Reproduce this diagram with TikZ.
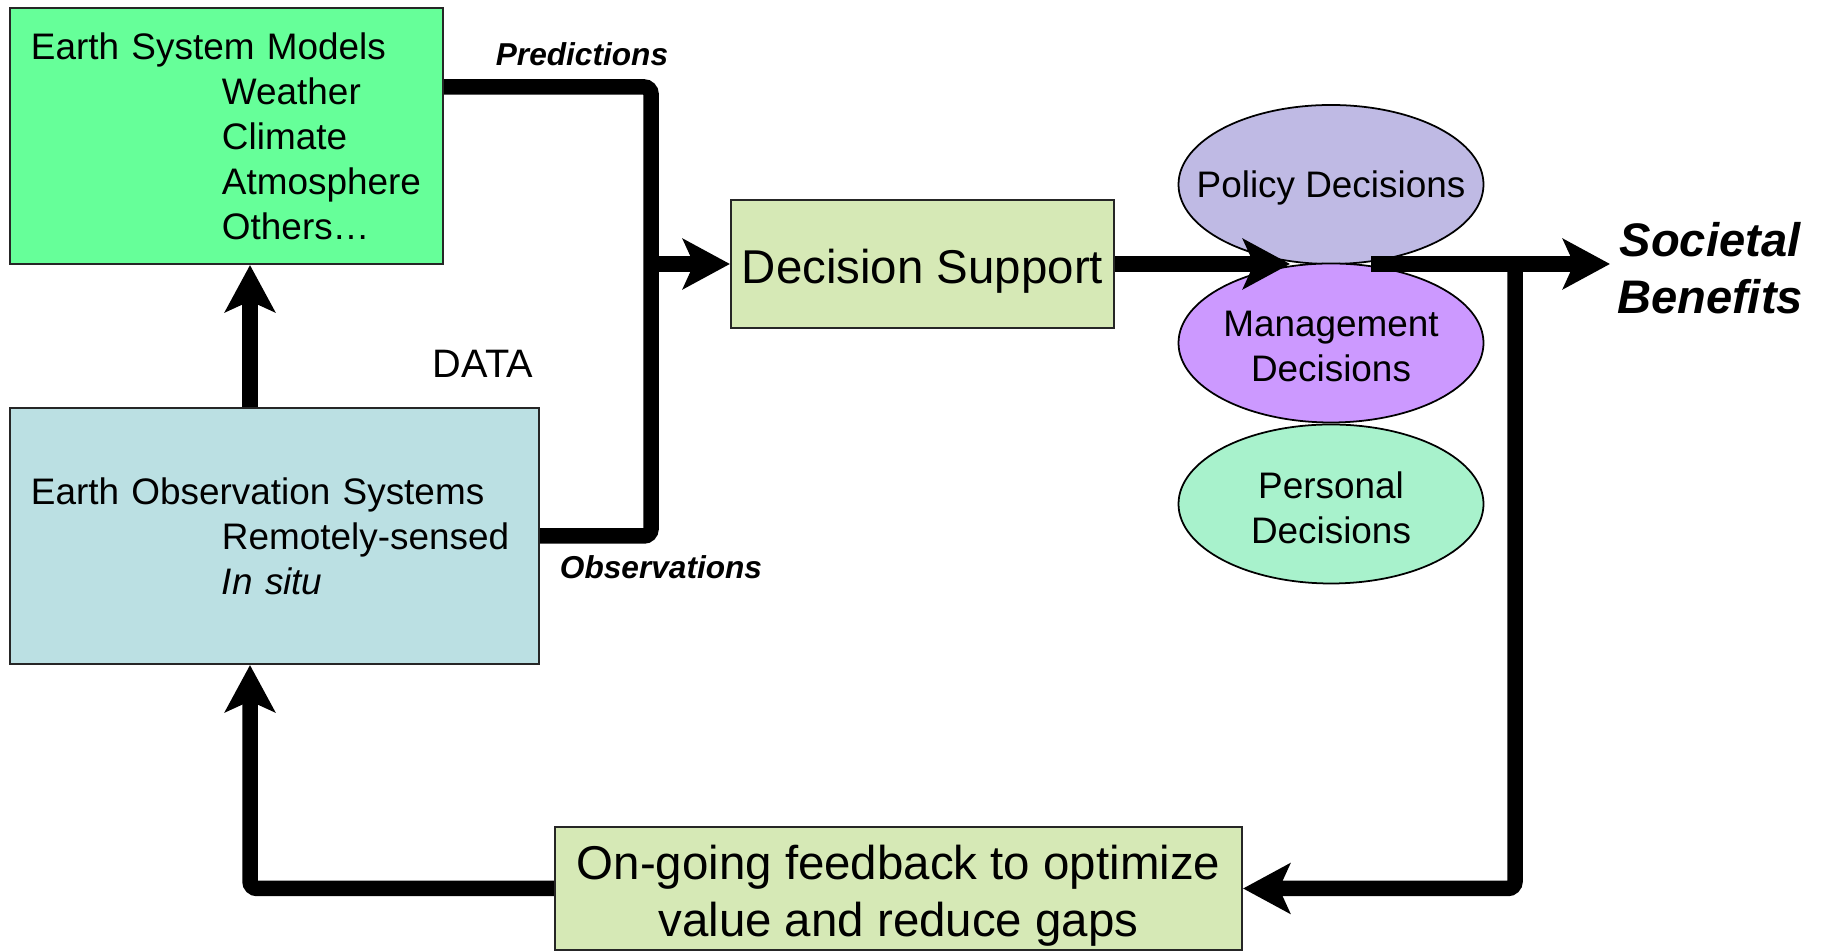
\documentclass[tikz,border=0pt]{standalone}
\usepackage{fontspec}
\setmainfont{Liberation Sans}
\usetikzlibrary{arrows.meta}
\usetikzlibrary{shapes.geometric}
\usetikzlibrary{positioning}

\definecolor{modelgreen}{RGB}{102,255,153}
\definecolor{obsblue}{RGB}{187,224,227}
\definecolor{supportgreen}{RGB}{214,233,182}
\definecolor{policyblue}{RGB}{191,186,228}
\definecolor{manageviolet}{RGB}{204,153,255}
\definecolor{personalgreen}{RGB}{168,242,204}

\begin{document}
\begin{tikzpicture}[
  font=\fontsize{10.5}{12.8}\selectfont,
  box/.style={rectangle,draw=black!85,line width=0.6pt,inner sep=0pt},
  decision/.style={ellipse,draw=black,line width=0.5pt,minimum width=3.05cm,minimum height=1.59cm,inner sep=0pt},
  inside/.style={align=center,yshift=-1pt},
  big/.style={font=\fontsize{13.5}{16.2}\selectfont,align=center,yshift=-2pt},
  flow/.style={line width=1.55mm},
  tip/.style={-{Stealth[length=4.7mm,width=5mm,inset=1.1mm]}},
  lbl/.style={font=\fontsize{9}{11}\selectfont\bfseries\itshape}
]
\useasboundingbox (0,0) rectangle (18.24,-9.51);

% models and observations
\node[box,fill=modelgreen,minimum width=4.33cm,minimum height=2.56cm,align=left,text width=3.91cm] (esm) at (2.265,-1.36)
  {Earth System Models\\\hspace*{1.91cm}Weather\\\hspace*{1.91cm}Climate\\\hspace*{1.91cm}Atmosphere\\\hspace*{1.91cm}Others\dots};
\node[box,fill=obsblue,minimum width=5.29cm,minimum height=2.56cm,align=left,text width=4.87cm] (eos) at (2.745,-5.36)
  {Earth Observation Systems\\\hspace*{1.91cm}Remotely-sensed\\\hspace*{1.91cm}\textit{In situ}};

% support and feedback
\node[box,fill=supportgreen,minimum width=3.83cm,minimum height=1.28cm,label={[big]center:Decision Support}] (ds) at (9.225,-2.64) {};
\node[box,fill=supportgreen,minimum width=6.87cm,minimum height=1.23cm,label={[big]center:On-going feedback to optimize\\value and reduce gaps}] (fb) at (8.985,-8.885) {};

% decisions
\node[decision,fill=policyblue,label={[inside]center:Policy Decisions}] (policy) at (13.31,-1.845) {};
\node[decision,fill=manageviolet,label={[inside]center:Management\\Decisions}] (manage) at (13.31,-3.43) {};
\node[decision,fill=personalgreen,label={[inside]center:Personal\\Decisions}] (personal) at (13.31,-5.04) {};

% labels
\node[lbl] (predlbl) at (5.82,-0.54) {Predictions};
\node[lbl] (obslbl) at (6.61,-5.67) {Observations};
\node[font=\fontsize{11.3}{13}\selectfont] (datalbl) at (4.83,-3.64) {DATA};
\node[font=\fontsize{13.4}{16.2}\selectfont\bfseries\itshape,align=center] (benefits) at (17.10,-2.68) {Societal\\Benefits};

\coordinate (bus) at (6.51,-2.64);
\coordinate (mergein) at (12.90,-2.64);
\coordinate (mergeout) at (13.71,-2.64);
\coordinate (loop) at (15.15,-2.64);
\coordinate (benefit) at (16.10,-2.64);

% connectors
\draw[flow,rounded corners=2pt] ([yshift=4.9mm]esm.east) -| (bus) |- (eos.east);
\draw[flow,tip] (bus) -- (ds.west);
\draw[flow,tip] (ds.east) -- (mergein);
\draw[flow,tip] (mergeout) -- (benefit);
\draw[flow,tip,rounded corners=2pt] (loop) |- (fb.east);
\draw[flow,tip,rounded corners=2pt] (fb.west) -| ([xshift=-2.45mm]eos.south);
\draw[flow,tip] ([xshift=-2.45mm]eos.north) -- ([xshift=-2.45mm]eos.north |- esm.south);

\end{tikzpicture}
\end{document}
